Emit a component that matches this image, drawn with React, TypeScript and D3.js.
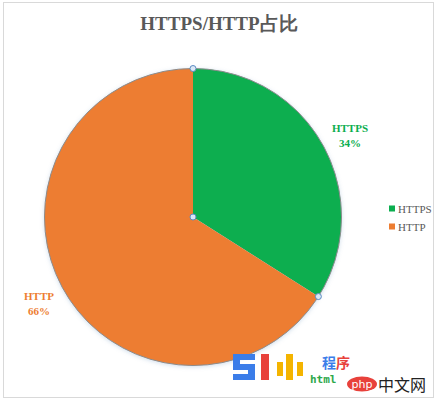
import React from "react";
import * as d3 from "d3";

const categories = ["HTTPS", "HTTP"];
const values = [34, 66];
const colors = ["#0BAE4F", "#ED7D31"];
const labelLines = [["HTTPS", "34%"], ["HTTP", "66%"]];
const title = "HTTPS/HTTP占比";

export default function App() {
  const W = 437, H = 404;
  const cx = 193, cy = 217, r = 148.5;
  const pie = d3.pie<number>().sort(null).value((d) => d);
  const arcs = pie(values);
  const arcGen = d3.arc<d3.PieArcDatum<number>>().innerRadius(0).outerRadius(r);
  const labelPos = [
    { x: 350, y: 132 },
    { x: 39, y: 300 },
  ];
  const handles = [
    [0, -r],
    [0, 0],
    [r * Math.sin(arcs[0].endAngle), -r * Math.cos(arcs[0].endAngle)],
  ];
  const serif = "'Liberation Serif', 'DejaVu Serif', serif";
  return (
    <div style={{ position: "fixed", left: 0, top: 0, width: W, height: H, background: "#fff" }}>
      <svg width={W} height={H} style={{ display: "block" }}>
        <defs>
          <filter id="sh" x="-10%" y="-10%" width="120%" height="120%">
            <feGaussianBlur in="SourceAlpha" stdDeviation="2" />
            <feOffset dx="0" dy="1" result="b" />
            <feFlood floodColor="#7aa0c8" floodOpacity="0.35" />
            <feComposite in2="b" operator="in" />
            <feMerge>
              <feMergeNode />
              <feMergeNode in="SourceGraphic" />
            </feMerge>
          </filter>
        </defs>
        <rect x={3.5} y={2.5} width={430} height={395} fill="#fff" stroke="#d9d9d9" strokeWidth={1} />
        <text x={219} y={30} textAnchor="middle" fontFamily={serif} fontWeight="bold" fontSize={19} fill="#595959">
          {title}
        </text>
        <g transform={`translate(${cx},${cy})`} filter="url(#sh)">
          {arcs.map((a, i) => (
            <path key={i} d={arcGen(a) || ""} fill={colors[i]} />
          ))}
          <circle r={r} fill="none" stroke="#8c8c8c" strokeWidth={1} />
        </g>
        <g transform={`translate(${cx},${cy})`}>
          {handles.map((h, i) => (
            <circle key={i} cx={h[0]} cy={h[1]} r={3} fill="#dbe8f5" stroke="#5b8bc4" strokeWidth={1} />
          ))}
        </g>
        {labelLines.map((lines, i) => (
          <text key={i} x={labelPos[i].x} y={labelPos[i].y} textAnchor="middle" fontFamily={serif} fontWeight="bold" fontSize={11} fill={colors[i]}>
            {lines.map((l, j) => (
              <tspan key={j} x={labelPos[i].x} dy={j === 0 ? 0 : 15}>{l}</tspan>
            ))}
          </text>
        ))}
        {categories.map((c, i) => (
          <g key={c} transform={`translate(389,${209 + i * 18})`}>
            <rect x={0} y={-3.5} width={6} height={6} fill={colors[i]} />
            <text x={9} y={3.5} fontFamily={serif} fontSize={11} fill="#595959">{c}</text>
          </g>
        ))}
        <g>
          <path d="M233,354 h22 v6 h-15 v4 h15 v16 h-22 v-6 h15 v-4 h-15 z" fill="#3b7de9" />
          <rect x={261} y={354} width={8} height={26} fill="#e8413b" />
          <rect x={286} y={354} width={7} height={26} fill="#f4b400" />
          <rect x={277} y={362} width={6} height={14} fill="#f4b400" />
          <rect x={297} y={362} width={6} height={14} fill="#f4b400" />
          <text x={322} y={368} fontFamily="'Noto Sans CJK SC', sans-serif" fontWeight="bold" fontSize={14} fill="#3b7de9">程<tspan fill="#e8413b">序</tspan></text>
          <text x={310} y={383} fontFamily="'DejaVu Sans Mono', monospace" fontWeight="bold" fontSize={11} fill="#2ea84a">html</text>
          <ellipse cx={362} cy={384} rx={15} ry={7.5} fill="#e8413b" />
          <text x={362} y={388} textAnchor="middle" fontFamily="'DejaVu Sans', sans-serif" fontSize={11} fill="#fff">php</text>
          <text x={378} y={391} fontFamily="'Noto Sans CJK SC', sans-serif" fontSize={16} fill="#222">中文网</text>
        </g>
      </svg>
    </div>
  );
}
